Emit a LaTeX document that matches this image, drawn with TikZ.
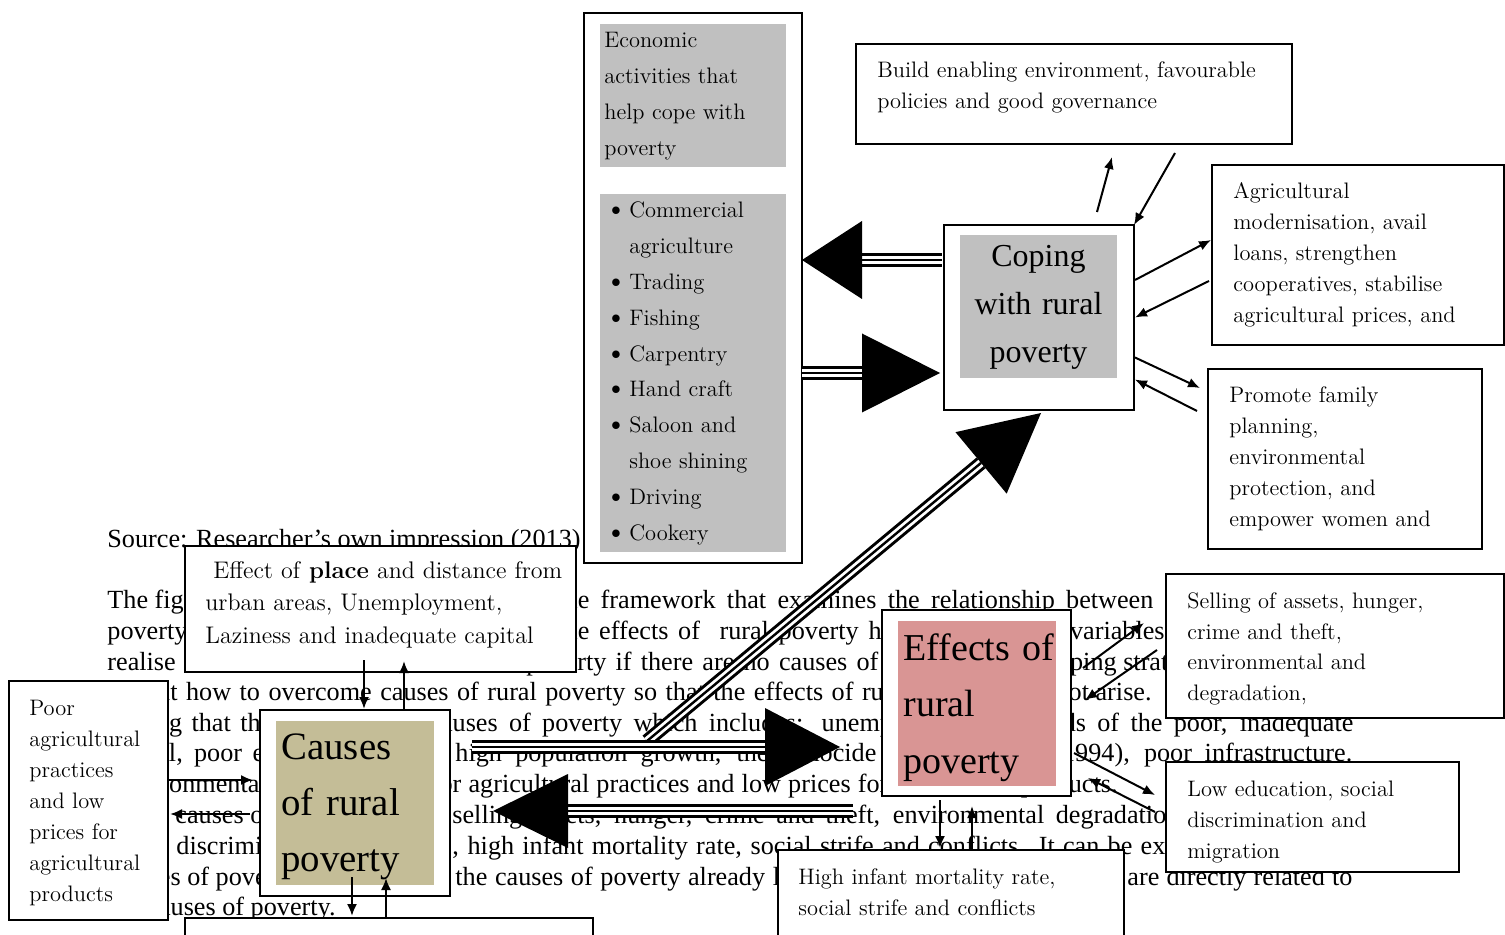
\documentclass[tikz,border=0pt]{standalone}
\usepackage{fontspec}
\newfontfamily\bodyfont{Liberation Serif}
\usetikzlibrary{arrows.meta,calc}
\definecolor{copegray}{HTML}{C0C0C0}
\definecolor{effpink}{HTML}{D99594}
\definecolor{causetan}{HTML}{C4BD97}
\tikzset{
    box/.style={draw,fill=white,line width=1pt,anchor=north west,inner sep=0pt,outer sep=0pt},
    panel/.style={fill=#1,anchor=north west,inner sep=0pt,outer sep=0pt},
    txt/.style={anchor=base west,inner sep=0pt,text width=200pt,align=left,font=\fontsize{11.2}{15.5}\selectfont},
    body/.style={anchor=base west,inner sep=0pt,font=\bodyfont\fontsize{13.1}{15}\selectfont},
    link/.style={line width=1pt,-{Latex[length=6pt,width=5pt]}}
}
\newcommand{\itm}{\makebox[12.5pt][l]{\hspace{0.5pt}{\fontsize{14}{14}\selectfont\textbullet}}}
\newcommand{\bigarrow}[4]{%
    \coordinate (hb) at ($(#2)!#3!(#1)$);
    \draw[line width=7pt] (#1) -- (hb);
    \draw[line width=4pt,white] (#1) -- (hb);
    \draw[line width=1.2pt] (#1) -- (hb);
    \fill (#2) -- ($(hb)!#4!90:(#2)$) -- ($(hb)!#4!-90:(#2)$) -- cycle;
}
\begin{document}
\begin{tikzpicture}[x=0.5pt,y=-0.5pt]
            \clip (0,0) rectangle (1505,935);
            % page text behind the figure
            \node[body] (s0) at (107,547) {Source: Researcher’s own impression (2013)};
            \node[body] (s1a) at (107,608) {The figure};
            \node[body] (s1b) at (557,608) {\makebox[298pt][s]{the framework that examines the relationship between}};
            \node[body] (s2a) at (107,639) {poverty};
            \node[body] (s2b) at (557,639) {\makebox[173pt][s]{the effects of\ \ rural poverty has}};
            \node[body,anchor=base east] (s2c) at (1165,639) {variables};
            \node[body] (s3a) at (107,670) {realise};
            \node[body] (s3b) at (526,670) {\makebox[176pt][s]{poverty if there are no causes of}};
            \node[body] (s3c) at (1045,670) {coping strategies};
            \node[body] (s4a) at (119,700) {\makebox[396pt][s]{about how to overcome causes of rural poverty so that the effects of rural}};
            \node[body,anchor=base east] (s4b) at (1152,700) {not arise.};
            \node[body] (s5a) at (90,731) {\makebox[91pt][s]{knowing that the}};
            \node[body] (s5b) at (429,731) {\makebox[278pt][s]{causes of poverty which includes: unemployment,}};
            \node[body] (s5c) at (1026,731) {\makebox[163.5pt][s]{needs of the poor, inadequate}};
            \node[body] (s6a) at (106,761) {\makebox[124pt][s]{capital, poor education}};
            \node[body] (s6b) at (455,761) {\makebox[210.5pt][s]{high population growth, the genocide}};
            \node[body] (s6c) at (1053,761) {\makebox[149.5pt][s]{(1994), poor infrastructure.}};
            \node[body] (s7a) at (115,792) {environmental};
            \node[body] (s7b) at (413,792) {\makebox[237.5pt][s]{poor agricultural practices and low prices for}};
            \node[body,anchor=base east] (s7c) at (1118,792) {products.};
            \node[body] (s8a) at (175,823) {causes of};
            \node[body] (s8b) at (452,823) {\makebox[363.5pt][s]{selling assets, hunger, crime and theft, environmental degradation}};
            \node[body] (s9a) at (176,854) {discrimination};
            \node[body] (s9b) at (452,854) {\makebox[395pt][s]{, high infant mortality rate, social strife and conflicts. It can be explained}};
            \node[body] (s10a) at (112,885) {causes of poverty};
            \node[body] (s10b) at (455,885) {\makebox[180.5pt][s]{the causes of poverty already lead}};
            \node[body] (s10c) at (1127,885) {\makebox[112.5pt][s]{are directly related to}};
            \node[body] (s11a) at (147,915) {causes of poverty.};

            \node[box,minimum width=109pt,minimum height=275pt] (econ) at (584,13) {};
            \node[panel=copegray,minimum width=93pt,minimum height=71.5pt] (econhead) at (600,24) {};
            \node[panel=copegray,minimum width=93pt,minimum height=179pt] (econlist) at (600,194) {};
            \node[box,minimum width=218pt,minimum height=50pt] (build) at (856,44) {};
            \node[box,minimum width=95pt,minimum height=92.5pt] (cope) at (944,225) {};
            \node[panel=copegray,minimum width=78.5pt,minimum height=71.5pt] (copein) at (960,235) {};
            \node[box,minimum width=146pt,minimum height=90pt] (agri) at (1212,165) {};
            \node[box,minimum width=137pt,minimum height=90pt] (promote) at (1208,369) {};
            \node[box,minimum width=169pt,minimum height=72pt] (selling) at (1166,574) {};
            \node[box,minimum width=146.5pt,minimum height=55pt] (lowedu) at (1166,762) {};
            \node[box,minimum width=173pt,minimum height=50pt] (infant) at (778,850) {};
            \node[box,minimum width=94.5pt,minimum height=93pt] (effects) at (882,610) {};
            \node[panel=effpink,minimum width=79pt,minimum height=82.5pt] (effin) at (898,621) {};
            \node[box,minimum width=95pt,minimum height=93pt] (causes) at (260,710) {};
            \node[panel=causetan,minimum width=79pt,minimum height=82pt] (causin) at (276,721) {};
            \node[box,minimum width=195.5pt,minimum height=63pt] (place) at (185,546) {};
            \node[box,minimum width=79.5pt,minimum height=119.5pt] (poor) at (9,681) {};
            \node[box,minimum width=204pt,minimum height=25pt] (bottom) at (185,918) {};

            \node[txt,font=\fontsize{11.2}{17.9}\selectfont] (econheadtxt) at (604,48)
                {Economic\\activities that\\help cope with\\poverty};
            \node[txt,font=\fontsize{11.2}{17.9}\selectfont] (econlisttxt) at (604,218)
                {\itm Commercial\\\hspace*{12.5pt}agriculture\\\itm Trading\\\itm Fishing\\\itm Carpentry\\
                 \itm Hand craft\\\itm Saloon and\\\hspace*{12.5pt}shoe shining\\\itm Driving\\\itm Cookery};
            \node[txt] (buildtxt) at (877,78) {Build enabling environment, favourable\\policies and good governance};
            \node[anchor=base,inner sep=0pt,text width=78.5pt,align=center,font=\bodyfont\fontsize{16}{23.8}\selectfont]
                (copetxt) at (1038.5,267) {Coping\\with rural\\poverty};
            \node[txt] (agritxt) at (1233,199)
                {Agricultural\\modernisation, avail\\loans, strengthen\\cooperatives, stabilise\\agricultural prices, and};
            \node[txt] (promotetxt) at (1229,403)
                {Promote family\\planning,\\environmental\\protection, and\\empower women and};
            \node[txt] (sellingtxt) at (1187,608)
                {Selling of assets, hunger,\\crime and theft,\\environmental and\\degradation,};
            \node[txt] (lowedutxt) at (1187,796) {Low education, social\\discrimination and\\migration};
            \node[txt] (infanttxt) at (798,884) {High infant mortality rate,\\social strife and conflicts};
            \node[txt,font=\bodyfont\fontsize{19}{28.3}\selectfont] (efftxt) at (903,660) {Effects of\\rural\\poverty};
            \node[txt,font=\bodyfont\fontsize{19.4}{28}\selectfont] (causetxt) at (281,759) {Causes\\of rural\\poverty};
            \node[txt,font=\fontsize{12}{16.25}\selectfont] (placetxt) at (205,578)
                {\hspace*{4pt}Effect of \textbf{place} and distance from\\urban areas, Unemployment,\\Laziness and inadequate capital};
            \node[txt] (poortxt) at (29,715)
                {Poor\\agricultural\\practices\\and low\\prices for\\agricultural\\products};

            \coordinate (aS) at ([shift={(-2,-57.5)}]cope.west);
            \coordinate (aT) at ([shift={(0,-28)}]econ.east);
            \coordinate (bS) at ([shift={(0,85)}]econ.east);
            \coordinate (bT) at ([shift={(-4,55.5)}]cope.west);
            \coordinate (cS) at ([shift={(22,-56)}]causes.east);
            \coordinate (cT) at ([shift={(-42,44)}]effects.west);
            \coordinate (dS) at ([shift={(-29,108)}]effects.west);
            \coordinate (dT) at ([shift={(43,8)}]causes.east);
            \coordinate (eS) at ([shift={(175,-6)}]cS);
            \coordinate (eT) at ([shift={(2,3)}]cope.south);
            \bigarrow{aS}{aT}{30pt}{19.5pt}
            \bigarrow{bS}{bT}{39pt}{19.75pt}
            \bigarrow{eS}{eT}{39pt}{20pt}
            \bigarrow{cS}{cT}{37.5pt}{19.5pt}
            \bigarrow{dS}{dT}{37.5pt}{18.5pt}

            \draw[link] ([shift={(58,-13)}]cope.north) -- ([shift={(38,13)}]build.south);
            \draw[link] ([shift={(101,9)}]build.south) -- (cope.north east);
            \draw[link] ([shift={(1,-37.5)}]cope.east) -- ([shift={(-1,-15)}]agri.west);
            \draw[link] ([shift={(-3,26)}]agri.west) -- ([shift={(1,0)}]cope.east);
            \draw[link] ([shift={(1,40)}]cope.east) -- ([shift={(-8,19)}]promote.north west);
            \draw[link] ([shift={(-11,42)}]promote.north west) -- ([shift={(1,62)}]cope.east);
            \draw[link] ([shift={(-16.5,-12)}]place.south) -- ([shift={(9,-1)}]causes.north);
            \draw[link] ([shift={(49,0)}]causes.north) -- ([shift={(23.5,-11)}]place.south);
            \draw[link] ([shift={(0,-20.5)}]poor.east) -- ([shift={(-7,-23)}]causes.west);
            \draw[link] ([shift={(-10,11)}]causes.west) -- ([shift={(2,13.5)}]poor.east);
            \draw[link] ([shift={(-3,-19)}]causes.south) -- ([shift={(-37,-2)}]bottom.north);
            \draw[link] ([shift={(-3,0)}]bottom.north) -- ([shift={(31,-18)}]causes.south);
            \draw[link] ([shift={(12,-35)}]effects.east) -- ([shift={(-22,-23)}]selling.west);
            \draw[link] ([shift={(-9,4)}]selling.west) -- ([shift={(14,-3)}]effects.east);
            \draw[link] ([shift={(3,50)}]effects.east) -- ([shift={(-11,-22)}]lowedu.west);
            \draw[link] ([shift={(-11,-5)}]lowedu.west) -- ([shift={(17,75)}]effects.east);
            \draw[link] ([shift={(-36.5,4)}]effects.south) -- ([shift={(-11,-2)}]infant.north);
            \draw[link] ([shift={(21,0)}]infant.north) -- ([shift={(-4.5,10)}]effects.south);
\end{tikzpicture}
\end{document}
